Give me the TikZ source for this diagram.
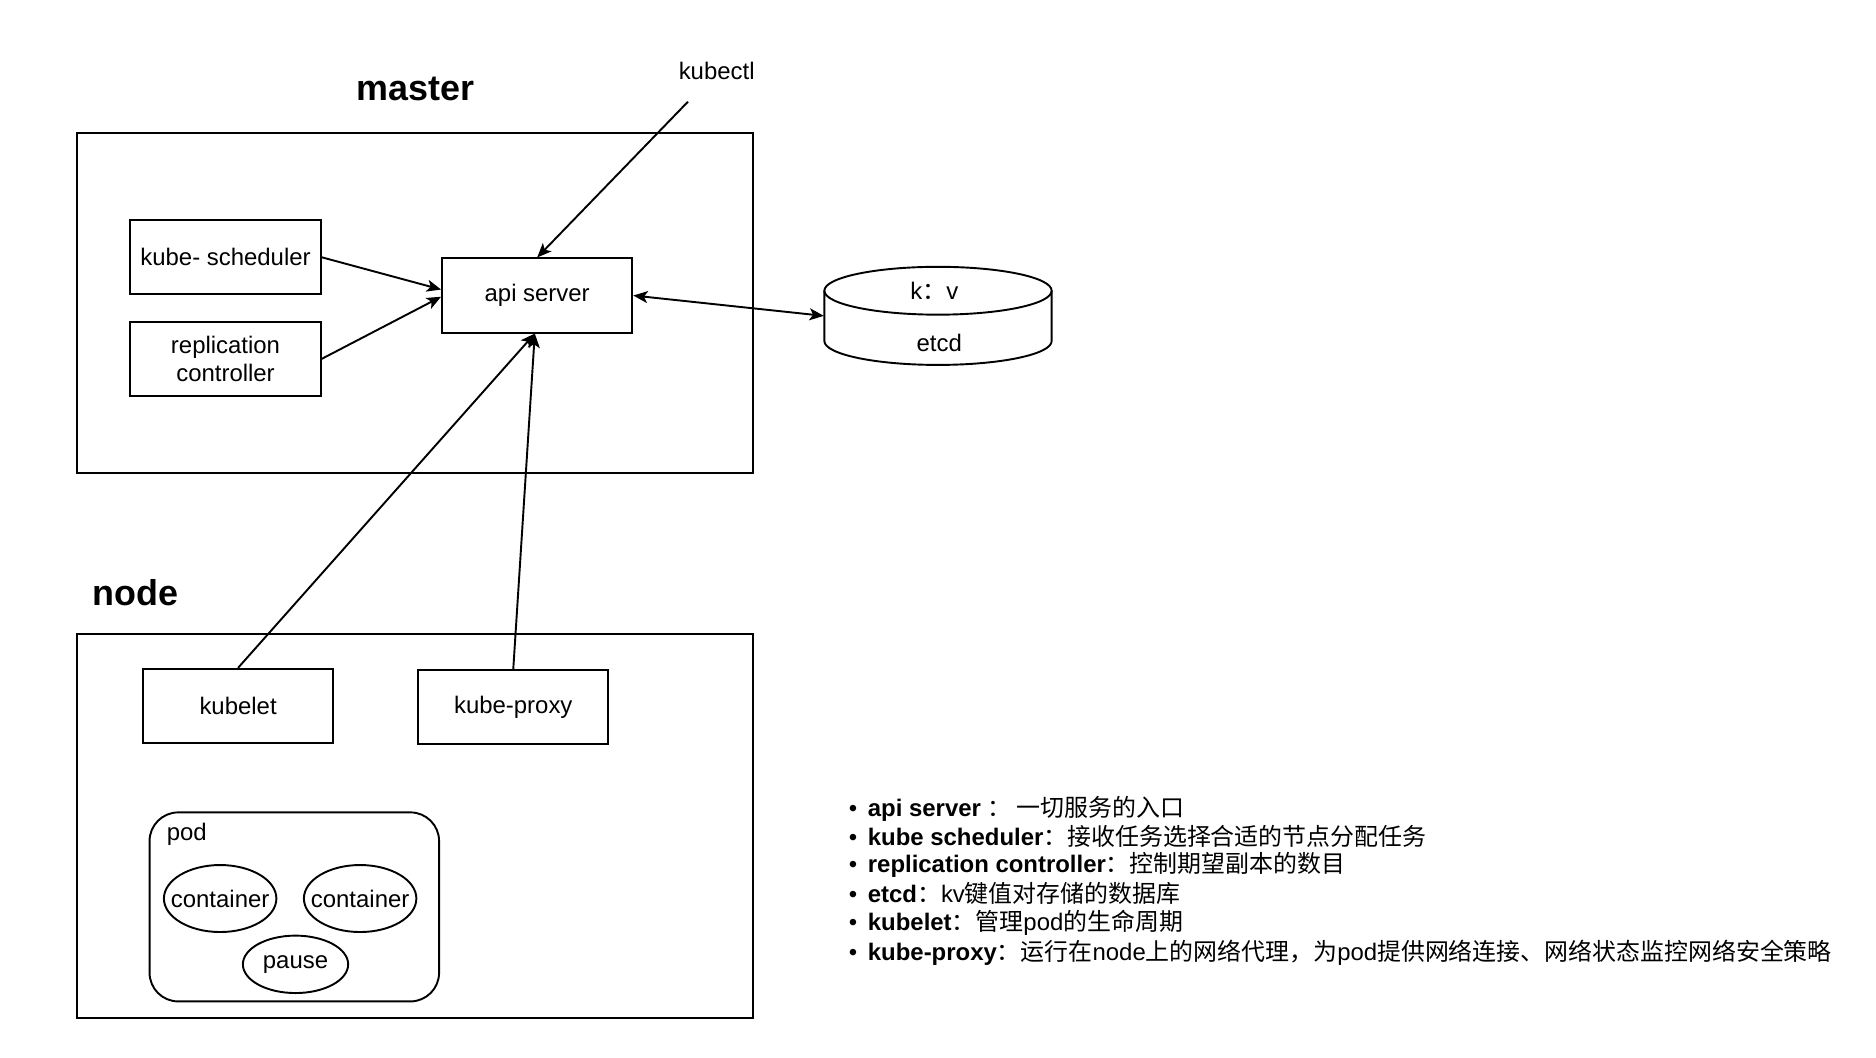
\documentclass[tikz,border=0pt]{standalone}
\usepackage{fontspec}
\setmainfont{Liberation Sans}
\newfontfamily\cjk{Noto Sans CJK SC}
\usetikzlibrary{arrows.meta,shapes.geometric}
\begin{document}
\begin{tikzpicture}[x=0.5pt,y=-0.5pt,
  font=\fontsize{10pt}{12pt}\selectfont,
  frame/.style={draw, line width=0.8pt, inner sep=0pt},
  box/.style={draw, line width=0.8pt, minimum width=79.5pt, minimum height=31pt, inner sep=0pt, align=center},
  oval/.style={draw, ellipse, line width=0.8pt, inner sep=0pt},
  heading/.style={font=\fontsize{15pt}{18pt}\selectfont\bfseries},
  conn/.style={line width=0.8pt, -{Stealth[length=6pt,width=5pt,inset=1.5pt]}},
  item/.style={anchor=west, inner sep=0pt},
]
\useasboundingbox (0,0) rectangle (1568,884);

% master
\node[heading] (mastertitle) at (347,74) {master};
\node[frame, minimum width=282.5pt, minimum height=142pt] (master) at (346.5,253) {};
\node (kubectl) at (599,59) {kubectl};
\coordinate (kubectlend) at (575,85);
\node[box] (sched) at (188.5,215) {kube- scheduler};
\node[box] (repl) at (188.5,300) {replication\\controller};
\node[box] (api) at (449,247) {api server};

% etcd
\node[minimum width=95pt, minimum height=41pt, inner sep=0pt] (etcd) at (784,264) {};
\draw[line width=0.8pt] (689,243) -- (689,285)
  arc[start angle=180, end angle=360, x radius=47.5pt, y radius=10pt] -- (879,243);
\draw[line width=0.8pt] (784,243) ellipse [x radius=47.5pt, y radius=10pt];
\node (kv) at (781,243) {k{\cjk ：}v};
\node (etcdlabel) at (785,287) {etcd};

% node
\node[heading] (nodetitle) at (113,495) {node};
\node[frame, minimum width=282.5pt, minimum height=160.5pt] (nodebox) at (346.5,690.5) {};
\node[box] (kubelet) at (199,590) {kubelet};
\node[box] (proxy) at (429,591) {kube-proxy};
\node[frame, rounded corners=12pt, minimum width=121pt, minimum height=79pt] (pod) at (246,758) {};
\node[anchor=west, inner sep=0pt] (podlabel) at (139,697) {pod};
\node[oval, minimum width=47pt, minimum height=28pt] (c1) at (184,751) {};
\node (c1text) at (c1) {container};
\node[oval, minimum width=47pt, minimum height=28pt] (c2) at (301,751) {};
\node (c2text) at (c2) {container};
\node[oval, minimum width=44pt, minimum height=24pt] (pause) at (247,806) {};
\node (pausetext) at (pause) {pause};

% connectors
\draw[conn] (kubectlend) -- (api.north);
\draw[conn] (sched.east) -- ([yshift=2.5pt]api.west);
\draw[conn] (repl.east) -- ([yshift=-0.5pt]api.west);
\draw[line width=0.8pt, {Stealth[length=6pt,width=5pt,inset=1.5pt]}-{Stealth[length=6pt,width=5pt,inset=1.5pt]}] (api.east) -- (etcd.west);
\draw[conn] (kubelet.north) -- ([xshift=-1pt]api.south);
\draw[conn] (proxy.north) -- ([xshift=-1pt]api.south);

% list
\newcommand{\bul}{\makebox[0pt][r]{\textbullet\hspace{4.5pt}}}
\node[item] (l1) at (725,676) {\bul\textbf{api server }{\cjk ： 一切服务的入口}};
\node[item] (l2) at (725,699) {\bul\textbf{kube scheduler}{\cjk ：接收任务选择合适的节点分配任务}};
\node[item] (l3) at (725,723) {\bul\textbf{replication controller}{\cjk ：控制期望副本的数目}};
\node[item] (l4) at (725,747) {\bul\textbf{etcd}{\cjk ：}kv{\cjk 键值对存储的数据库}};
\node[item] (l5) at (725,771) {\bul\textbf{kubelet}{\cjk ：管理}pod{\cjk 的生命周期}};
\node[item] (l6) at (725,796) {\bul\textbf{kube-proxy}{\cjk ：运行在}node{\cjk 上的网络代理，为}pod{\cjk 提供网络连接、网络状态监控网络安全策略}};
\end{tikzpicture}
\end{document}
